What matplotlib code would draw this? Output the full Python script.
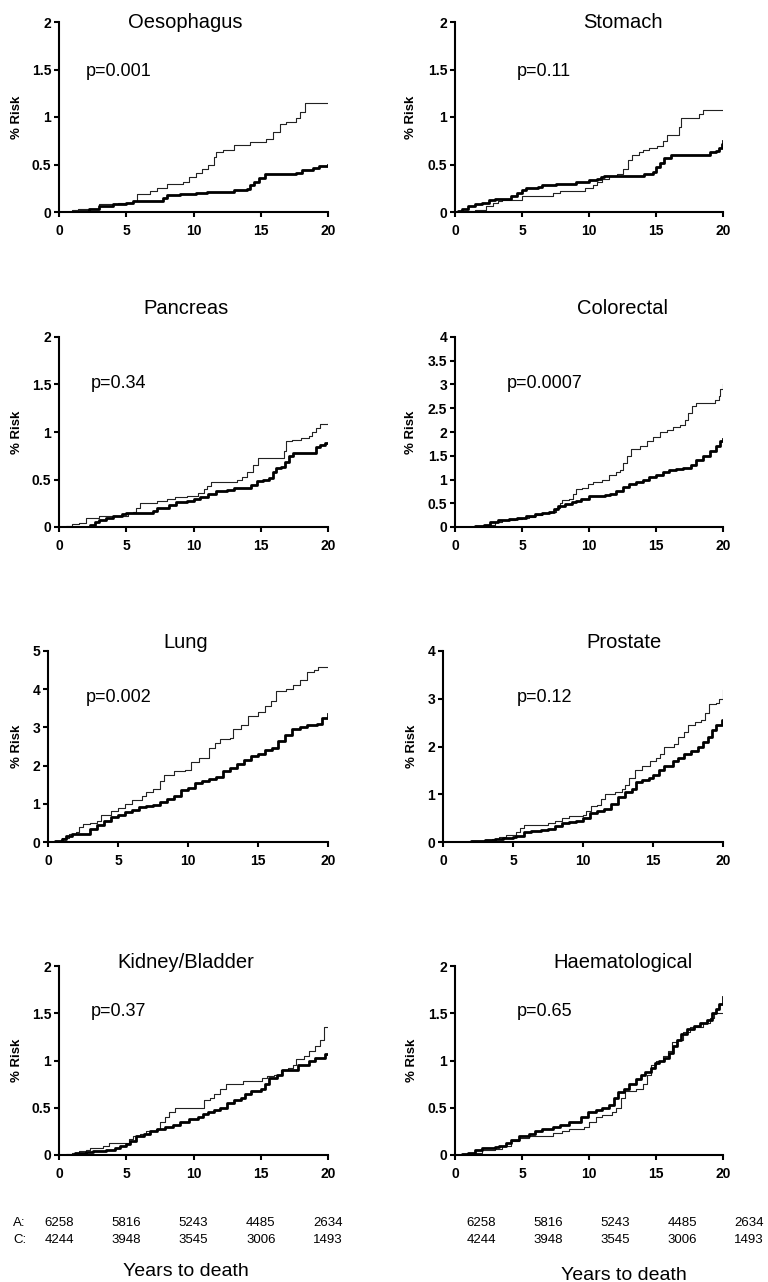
import numpy as np
import matplotlib
matplotlib.use("Agg")
from matplotlib import pyplot as plt
from matplotlib.ticker import MultipleLocator, FuncFormatter
from matplotlib import transforms

plt.rcParams['font.family'] = ['Liberation Sans', 'DejaVu Sans']

# ---- data (years, % risk); thin = first group, thick = second
oes_thin_t = [0, 1.0, 1.4, 3.0, 4.4, 5.5, 5.8, 6.8, 7.3, 8.0, 9.2, 9.7, 10.2, 10.6, 11.1, 11.5, 11.7, 12.2, 13.0, 14.2,
              15.4, 15.9, 16.4, 16.9, 17.6, 17.9, 18.3, 20]
oes_thin_r = [0, 0.02, 0.03, 0.08, 0.1, 0.12, 0.19, 0.22, 0.25, 0.3, 0.32, 0.37, 0.41, 0.45, 0.5, 0.58, 0.63, 0.65, 0.71, 0.74,
              0.77, 0.84, 0.93, 0.95, 0.99, 1.05, 1.15, 1.15]
oes_thick_t = [0, 1.5, 2.2, 3.0, 4.0, 5.0, 5.5, 7.7, 8.0, 9.0, 10.2, 11.0, 13.0, 14.0, 14.2, 14.5, 14.9, 15.3, 17.6, 18.1,
               18.9, 19.3, 20]
oes_thick_r = [0, 0.01, 0.03, 0.06, 0.08, 0.1, 0.12, 0.15, 0.18, 0.19, 0.2, 0.21, 0.23, 0.24, 0.28, 0.32, 0.36, 0.4, 0.41, 0.44,
               0.46, 0.48, 0.49]

sto_thin_t = [0, 0.5, 1.5, 2.3, 2.8, 3.2, 3.5, 5.0, 7.3, 7.8, 9.7, 10.3, 10.6, 11.0, 11.5, 12.1, 12.5, 12.9, 13.2, 13.7,
              14.0, 14.5, 15.1, 15.5, 15.8, 16.7, 16.9, 18.2, 18.5, 20]
sto_thin_r = [0, 0.01, 0.02, 0.06, 0.1, 0.12, 0.13, 0.17, 0.2, 0.22, 0.25, 0.28, 0.32, 0.35, 0.38, 0.4, 0.45, 0.55, 0.6, 0.63,
              0.65, 0.67, 0.69, 0.75, 0.81, 0.9, 0.99, 1.03, 1.07, 1.07]
sto_thick_t = [0, 0.2, 0.5, 1.0, 1.5, 2.0, 2.5, 3.0, 4.2, 4.6, 5.0, 5.3, 6.2, 6.5, 7.5, 8.0, 9.0, 10.0, 10.6, 10.9,
               11.1, 14.1, 14.8, 15.0, 15.3, 15.6, 16.1, 19.0, 19.5, 19.7, 19.9, 20]
sto_thick_r = [0, 0.01, 0.03, 0.06, 0.08, 0.1, 0.13, 0.14, 0.17, 0.2, 0.23, 0.25, 0.26, 0.28, 0.29, 0.3, 0.32, 0.34, 0.35, 0.37,
               0.38, 0.4, 0.42, 0.47, 0.52, 0.57, 0.6, 0.63, 0.64, 0.67, 0.72, 0.75]

pan_thin_t = [0, 0.5, 1.0, 1.5, 2.0, 3.0, 5.1, 5.5, 5.7, 6.0, 7.3, 8.0, 8.6, 9.5, 10.3, 10.8, 11.0, 11.3, 13.2, 13.6,
              14.0, 14.4, 14.8, 16.7, 16.9, 17.3, 18.0, 18.6, 18.8, 19.1, 19.4, 20]
pan_thin_r = [0, 0.01, 0.03, 0.04, 0.1, 0.12, 0.15, 0.16, 0.2, 0.25, 0.27, 0.3, 0.32, 0.33, 0.36, 0.4, 0.43, 0.47, 0.5, 0.53,
              0.58, 0.65, 0.73, 0.8, 0.9, 0.92, 0.94, 0.96, 1.0, 1.04, 1.08, 1.09]
pan_thick_t = [0, 1.5, 2.3, 2.7, 3.0, 3.5, 4.0, 4.7, 5.0, 7.0, 7.3, 8.2, 8.7, 9.5, 10.0, 10.5, 11.1, 11.7, 12.5, 13.0,
               14.3, 14.7, 15.2, 15.6, 15.9, 16.1, 16.5, 16.8, 17.1, 17.4, 19.1, 19.4, 19.8, 20]
pan_thick_r = [0, 0.005, 0.02, 0.05, 0.07, 0.1, 0.12, 0.14, 0.15, 0.17, 0.2, 0.23, 0.26, 0.27, 0.29, 0.32, 0.35, 0.38, 0.39, 0.41,
               0.44, 0.48, 0.5, 0.52, 0.58, 0.62, 0.63, 0.68, 0.75, 0.78, 0.84, 0.86, 0.88, 0.88]

col_thin_t = [0, 0.5, 1.5, 2.0, 2.5, 3.0, 3.5, 4.5, 5.0, 5.5, 6.0, 6.5, 7.2, 7.5, 7.8, 8.0, 8.5, 8.8, 9.0, 9.5,
              9.9, 10.3, 11.0, 11.5, 12.0, 12.3, 12.5, 12.8, 13.1, 13.8, 14.3, 14.8, 15.3, 15.8, 16.3, 16.8, 17.2, 17.4, 17.7, 18.0,
              19.4, 19.7, 19.8, 20]
col_thin_r = [0, 0.01, 0.02, 0.03, 0.05, 0.1, 0.15, 0.16, 0.2, 0.22, 0.25, 0.3, 0.32, 0.4, 0.5, 0.56, 0.6, 0.7, 0.8, 0.82,
              0.9, 0.95, 1.0, 1.1, 1.15, 1.2, 1.35, 1.5, 1.65, 1.7, 1.8, 1.9, 2.0, 2.05, 2.1, 2.15, 2.25, 2.4, 2.55, 2.6,
              2.68, 2.75, 2.9, 3.02]
col_thick_t = [0, 0.5, 1.5, 2.2, 2.6, 3.2, 4.0, 4.6, 5.3, 6.0, 6.5, 7.0, 7.4, 7.7, 8.2, 8.7, 9.0, 9.4, 10.0, 10.5,
               11.2, 11.6, 12.0, 12.5, 13.0, 13.5, 14.0, 14.5, 15.0, 15.5, 16.0, 16.5, 17.0, 17.6, 18.0, 18.5, 19.0, 19.5, 19.8, 20]
col_thick_r = [0, 0.01, 0.03, 0.05, 0.1, 0.15, 0.16, 0.2, 0.23, 0.27, 0.3, 0.32, 0.37, 0.44, 0.48, 0.52, 0.55, 0.6, 0.65, 0.66,
               0.68, 0.7, 0.75, 0.85, 0.9, 0.95, 1.0, 1.05, 1.1, 1.15, 1.2, 1.23, 1.25, 1.3, 1.4, 1.5, 1.6, 1.7, 1.8, 1.85]

lun_thin_t = [0, 0.5, 1.0, 1.5, 2.0, 2.2, 2.5, 3.0, 3.5, 3.8, 4.5, 5.0, 5.5, 6.0, 6.7, 7.0, 7.5, 8.0, 8.3, 9.0,
              9.8, 10.2, 10.8, 11.5, 11.9, 12.3, 13.0, 13.2, 13.8, 14.3, 15.0, 15.5, 15.9, 16.3, 17.0, 17.5, 18.0, 18.5, 19.0, 19.3, 20]
lun_thin_r = [0, 0.02, 0.1, 0.2, 0.25, 0.4, 0.47, 0.5, 0.55, 0.7, 0.8, 0.9, 1.0, 1.1, 1.2, 1.3, 1.4, 1.6, 1.75, 1.85,
              1.88, 2.1, 2.2, 2.45, 2.6, 2.7, 2.72, 2.95, 3.05, 3.3, 3.4, 3.55, 3.7, 3.95, 4.0, 4.1, 4.25, 4.45, 4.5, 4.58, 4.58]
lun_thick_t = [0, 0.5, 1.0, 1.3, 1.7, 2.0, 3.0, 3.5, 4.0, 4.5, 5.0, 5.5, 6.0, 6.5, 7.0, 7.5, 8.0, 8.5, 9.0, 9.5,
               10.0, 10.5, 11.0, 11.5, 12.0, 12.5, 13.0, 13.5, 14.0, 14.5, 15.0, 15.5, 16.0, 16.4, 16.9, 17.4, 18.0, 18.5, 19.2, 19.6, 20]
lun_thick_r = [0, 0.02, 0.08, 0.15, 0.2, 0.22, 0.35, 0.45, 0.55, 0.65, 0.7, 0.78, 0.85, 0.92, 0.95, 0.97, 1.05, 1.12, 1.2, 1.35,
               1.42, 1.55, 1.6, 1.65, 1.7, 1.85, 1.95, 2.05, 2.15, 2.25, 2.3, 2.4, 2.45, 2.65, 2.8, 2.95, 3.0, 3.05, 3.1, 3.25, 3.35]

pro_thin_t = [0, 1.0, 2.0, 3.0, 3.5, 4.0, 4.5, 5.2, 5.5, 5.8, 7.0, 7.5, 8.0, 8.5, 9.0, 10.0, 10.2, 10.6, 11.0, 11.3,
              11.6, 12.3, 12.8, 13.0, 13.3, 13.7, 14.2, 14.8, 15.2, 15.5, 15.8, 16.5, 16.8, 17.2, 17.5, 18.0, 18.4, 18.7, 19.0, 19.5,
              19.7, 20]
pro_thin_r = [0, 0.01, 0.02, 0.04, 0.07, 0.1, 0.15, 0.2, 0.3, 0.35, 0.36, 0.4, 0.45, 0.5, 0.55, 0.56, 0.65, 0.75, 0.77, 0.9,
              1.0, 1.05, 1.1, 1.2, 1.35, 1.5, 1.6, 1.7, 1.75, 1.85, 2.0, 2.05, 2.2, 2.3, 2.45, 2.52, 2.55, 2.7, 2.9, 2.92,
              3.0, 3.18]
pro_thick_t = [0, 1.0, 2.0, 3.0, 3.7, 4.3, 5.0, 5.2, 5.8, 6.3, 7.0, 7.5, 8.0, 8.5, 9.0, 9.5, 10.0, 10.5, 11.0, 11.5,
               12.0, 12.5, 13.0, 13.5, 13.8, 14.2, 14.7, 15.0, 15.4, 15.8, 16.4, 16.8, 17.2, 17.7, 18.2, 18.6, 18.9, 19.2, 19.5, 19.9, 20]
pro_thick_r = [0, 0.01, 0.02, 0.04, 0.07, 0.09, 0.1, 0.13, 0.2, 0.24, 0.25, 0.28, 0.33, 0.4, 0.42, 0.45, 0.5, 0.6, 0.65, 0.7,
               0.8, 0.95, 1.05, 1.1, 1.25, 1.3, 1.35, 1.4, 1.5, 1.6, 1.7, 1.75, 1.85, 1.9, 2.0, 2.1, 2.2, 2.35, 2.45, 2.55, 2.55]

kid_thin_t = [0, 0.5, 1.0, 1.5, 2.0, 2.3, 3.3, 3.7, 5.2, 5.5, 6.0, 6.5, 7.2, 7.5, 7.9, 8.2, 8.6, 10.8, 11.2, 11.5,
              12.0, 12.4, 13.7, 15.1, 15.5, 16.0, 16.5, 17.0, 17.4, 17.6, 18.2, 18.6, 19.0, 19.4, 19.7, 20]
kid_thin_r = [0, 0.01, 0.02, 0.04, 0.05, 0.07, 0.1, 0.13, 0.17, 0.2, 0.22, 0.25, 0.28, 0.35, 0.4, 0.45, 0.5, 0.58, 0.6, 0.65,
              0.7, 0.75, 0.78, 0.82, 0.84, 0.85, 0.9, 0.92, 0.95, 1.02, 1.05, 1.1, 1.15, 1.22, 1.35, 1.35]
kid_thick_t = [0, 0.8, 1.2, 2.0, 2.5, 3.5, 4.2, 4.5, 5.0, 5.3, 5.7, 6.3, 6.8, 7.3, 7.9, 8.5, 9.0, 9.7, 10.3, 10.7,
               11.1, 11.5, 12.0, 12.5, 13.0, 13.5, 13.8, 14.3, 15.0, 15.3, 15.6, 16.2, 16.6, 17.8, 18.6, 19.0, 19.8, 20]
kid_thick_r = [0, 0.005, 0.02, 0.03, 0.04, 0.05, 0.07, 0.1, 0.12, 0.15, 0.2, 0.22, 0.25, 0.27, 0.3, 0.32, 0.35, 0.38, 0.4, 0.43,
               0.46, 0.48, 0.5, 0.55, 0.58, 0.6, 0.65, 0.68, 0.7, 0.75, 0.82, 0.85, 0.9, 0.95, 1.0, 1.03, 1.07, 1.07]

hae_thin_t = [0, 0.5, 1.5, 2.0, 3.0, 3.5, 4.2, 4.8, 5.5, 7.3, 8.0, 8.5, 9.6, 10.0, 10.5, 11.0, 11.7, 12.0, 12.4, 12.7,
              13.5, 14.0, 14.3, 14.6, 15.0, 15.5, 15.9, 16.2, 16.6, 17.0, 17.5, 18.5, 19.0, 19.3, 20]
hae_thin_r = [0, 0.01, 0.02, 0.05, 0.06, 0.1, 0.15, 0.18, 0.2, 0.23, 0.25, 0.27, 0.3, 0.35, 0.4, 0.42, 0.45, 0.5, 0.6, 0.68,
              0.7, 0.75, 0.85, 0.95, 1.0, 1.05, 1.1, 1.2, 1.22, 1.3, 1.35, 1.4, 1.45, 1.5, 1.5]
hae_thick_t = [0, 0.5, 1.0, 1.5, 2.0, 3.0, 3.3, 3.8, 4.2, 4.8, 5.5, 6.0, 6.5, 7.3, 7.8, 8.5, 9.4, 9.9, 10.5, 11.0,
               11.5, 11.9, 12.2, 12.6, 13.0, 13.5, 13.9, 14.2, 14.6, 14.9, 15.2, 15.6, 16.0, 16.3, 16.6, 16.9, 17.3, 17.8, 18.3, 18.8,
               19.2, 19.5, 19.7, 20]
hae_thick_r = [0, 0.01, 0.02, 0.05, 0.07, 0.08, 0.1, 0.13, 0.16, 0.2, 0.22, 0.25, 0.27, 0.3, 0.32, 0.35, 0.4, 0.45, 0.48, 0.5,
               0.53, 0.6, 0.67, 0.7, 0.75, 0.8, 0.85, 0.88, 0.92, 0.97, 1.0, 1.03, 1.08, 1.15, 1.22, 1.28, 1.33, 1.37, 1.4, 1.43,
               1.5, 1.55, 1.6, 1.67]

titles = ["Oesophagus", "Stomach", "Pancreas", "Colorectal", "Lung", "Prostate", "Kidney/Bladder", "Haematological"]
pvalues = ["p=0.001", "p=0.11", "p=0.34", "p=0.0007", "p=0.002", "p=0.12", "p=0.37", "p=0.65"]
ymax = [2, 2, 2, 4, 5, 4, 2, 2]
ystep = [0.5, 0.5, 0.5, 0.5, 1, 1, 0.5, 0.5]
thin_series = [(oes_thin_t, oes_thin_r), (sto_thin_t, sto_thin_r), (pan_thin_t, pan_thin_r), (col_thin_t, col_thin_r),
               (lun_thin_t, lun_thin_r), (pro_thin_t, pro_thin_r), (kid_thin_t, kid_thin_r), (hae_thin_t, hae_thin_r)]
thick_series = [(oes_thick_t, oes_thick_r), (sto_thick_t, sto_thick_r), (pan_thick_t, pan_thick_r), (col_thick_t, col_thick_r),
                (lun_thick_t, lun_thick_r), (pro_thick_t, pro_thick_r), (kid_thick_t, kid_thick_r), (hae_thick_t, hae_thick_r)]

risk_years = [0, 5, 10, 15, 20]
at_risk_A = ["6258", "5816", "5243", "4485", "2634"]
at_risk_C = ["4244", "3948", "3545", "3006", "1493"]

# ---- layout, in pixels of the 768x1282 picture
W, H = 768, 1282
# axes box: left, right, top, bottom
boxes = [(59, 328, 22, 212), (455, 723, 22, 212),
         (59, 328, 337, 527), (455, 723, 337, 527),
         (48, 328, 651, 842), (443, 723, 651, 842),
         (59, 328, 966, 1155), (455, 723, 966, 1155)]
title_pos = [(185, 22), (623, 22), (186, 308), (623, 308), (186, 643), (624, 643), (186, 962), (623, 962)]
p_pos = [(86, 72), (517, 72), (91, 383), (507, 383), (86, 697), (517, 697), (91, 1012), (517, 1012)]
ylab_x = [17.5, 411.5, 17.5, 411.5, 17.5, 412, 17.5, 412]


def fx(x):
    return x / W


def fy(y):
    return 1 - y / H


fig = plt.figure(figsize=(W / 100, H / 100), dpi=100)
axes = []
for i in range(8):
    l, r, t, b = boxes[i]
    ax = fig.add_axes([fx(l), fy(b), (r - l) / W, (b - t) / H])
    axes.append(ax)
    ts, rs = thin_series[i]
    ax.step(ts, rs, where="post", color="#222222", lw=0.8)
    ts, rs = thick_series[i]
    ax.step(ts, rs, where="post", color="black", lw=2.0)
    ax.set_xlim(0, 20)
    ax.set_ylim(0, ymax[i])
    ax.xaxis.set_major_locator(MultipleLocator(5))
    ax.yaxis.set_major_locator(MultipleLocator(ystep[i]))
    ax.yaxis.set_major_formatter(FuncFormatter(lambda v, p: "%g" % v))
    for s in ["top", "right"]:
        ax.spines[s].set_visible(False)
    for s in ["left", "bottom"]:
        ax.spines[s].set_linewidth(1.5)
    ax.tick_params(direction="out", length=3.5, width=1.5, labelsize=10)
    ax.tick_params(axis="x", pad=5)
    ax.tick_params(axis="y", pad=2)
    for lab in ax.get_xticklabels() + ax.get_yticklabels():
        lab.set_fontweight("bold")
    fig.text(fx(title_pos[i][0]), fy(title_pos[i][1]), titles[i], ha="center", va="center", fontsize=14.5)
    fig.text(fx(p_pos[i][0]), fy(p_pos[i][1]), pvalues[i], ha="left", va="center", fontsize=13)
    fig.text(fx(ylab_x[i]), fy((t + b) / 2), "% Risk", rotation=90, ha="center", va="center",
             fontsize=9.5, fontweight="bold")

# numbers at risk
left_tr = transforms.blended_transform_factory(axes[6].transData, fig.transFigure)
right_tr = transforms.blended_transform_factory(axes[7].transData, fig.transFigure)
right_tr = right_tr + transforms.ScaledTranslation(26 / 100, 0, fig.dpi_scale_trans)
for j, yr in enumerate(risk_years):
    fig.text(yr, fy(1223), at_risk_A[j], transform=left_tr, ha="center", va="center", fontsize=9.5)
    fig.text(yr, fy(1240), at_risk_C[j], transform=left_tr, ha="center", va="center", fontsize=9.5)
    fig.text(yr, fy(1223), at_risk_A[j], transform=right_tr, ha="center", va="center", fontsize=9.5)
    fig.text(yr, fy(1240), at_risk_C[j], transform=right_tr, ha="center", va="center", fontsize=9.5)
fig.text(fx(13), fy(1223), "A:", ha="left", va="center", fontsize=9.5)
fig.text(fx(13), fy(1240), "C:", ha="left", va="center", fontsize=9.5)
fig.text(fx(186), fy(1271), "Years to death", ha="center", va="center", fontsize=14)
fig.text(fx(624), fy(1275), "Years to death", ha="center", va="center", fontsize=14)

fig.savefig("out.png", dpi=100)
